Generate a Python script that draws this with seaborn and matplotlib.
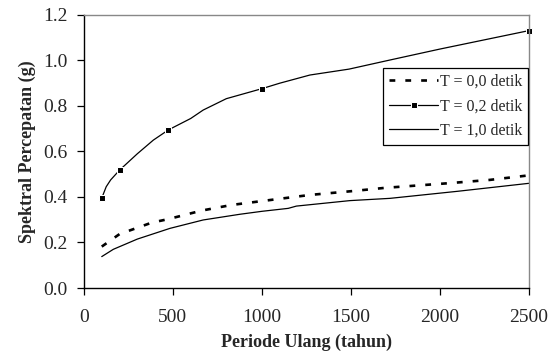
import pandas as pd
import matplotlib
matplotlib.use("Agg")
import matplotlib.pyplot as plt
import seaborn as sns

# periode ulang (tahun) dan spektral percepatan (g)
periode_00 = [100, 200, 380, 475, 660, 830, 1000, 1270, 1510, 1690, 2040, 2280, 2500]
spek_00 = [0.182, 0.237, 0.287, 0.303, 0.340, 0.365, 0.382, 0.409, 0.426, 0.440, 0.460, 0.475, 0.495]

periode_02 = [100, 125, 150, 200, 300, 390, 475, 600, 670, 800, 1000, 1100, 1270, 1490, 1720, 2000, 2500]
spek_02 = [0.395, 0.445, 0.475, 0.518, 0.590, 0.650, 0.695, 0.745, 0.782, 0.832, 0.876, 0.900, 0.936, 0.962, 1.002, 1.050, 1.131]
idx_marker_02 = [0, 3, 6, 10, 16]  # titik yang diberi marker

periode_10 = [100, 165, 300, 483, 670, 876, 1000, 1148, 1194, 1494, 1720, 2100, 2500]
spek_10 = [0.138, 0.170, 0.215, 0.262, 0.299, 0.324, 0.337, 0.350, 0.360, 0.384, 0.394, 0.425, 0.460]

label_seri = ["T = 0,0 detik", "T = 0,2 detik", "T = 1,0 detik"]

sns.set_style("ticks")
plt.rcParams["font.family"] = ["Liberation Serif", "DejaVu Serif"]

fig = plt.figure(figsize=(5.56, 3.56), dpi=100)
ax = fig.add_axes([0.151, 0.191, 0.80, 0.767])

sns.lineplot(x=periode_00, y=spek_00, ax=ax, color="black", lw=1.9,
             dashes=False, label=label_seri[0], linestyle=(0, (2.2, 3.8)))
sns.lineplot(x=periode_02, y=spek_02, ax=ax, color="black", lw=0.9,
             marker="s", markersize=4, markevery=idx_marker_02,
             label=label_seri[1], clip_on=False)
sns.lineplot(x=periode_10, y=spek_10, ax=ax, color="black", lw=0.9,
             label=label_seri[2])

ax.set_xlim(0, 2500)
ax.set_ylim(0, 1.2)
ax.set_xticks([0, 500, 1000, 1500, 2000, 2500])
ax.set_yticks([0.0, 0.2, 0.4, 0.6, 0.8, 1.0, 1.2])
ax.set_yticklabels([f"{v:.1f}" for v in [0.0, 0.2, 0.4, 0.6, 0.8, 1.0, 1.2]])
ax.tick_params(axis="both", labelsize=14, direction="out", length=5,
               width=0.9, color="black", pad=7)
ax.tick_params(axis="x", pad=10)

ax.set_xlabel("Periode Ulang (tahun)", fontsize=13, fontweight="bold", labelpad=6)
ax.set_ylabel("Spektral Percepatan (g)", fontsize=13, fontweight="bold", labelpad=5)

for s in ["left", "bottom"]:
    ax.spines[s].set_color("black")
    ax.spines[s].set_linewidth(1.0)
for s in ["top", "right"]:
    ax.spines[s].set_visible(True)
    ax.spines[s].set_color("#888888")
    ax.spines[s].set_linewidth(1.0)

leg = ax.legend(loc="upper right", bbox_to_anchor=(0.998, 0.806), fontsize=11.5,
                frameon=True, fancybox=False, shadow=False, borderpad=0.35,
                handlelength=3.1, handletextpad=0.1, labelspacing=0.55,
                borderaxespad=0)
leg.get_frame().set_edgecolor("black")
leg.get_frame().set_linewidth(0.9)
leg.get_frame().set_alpha(1)

fig.savefig("out.png", dpi=100)
